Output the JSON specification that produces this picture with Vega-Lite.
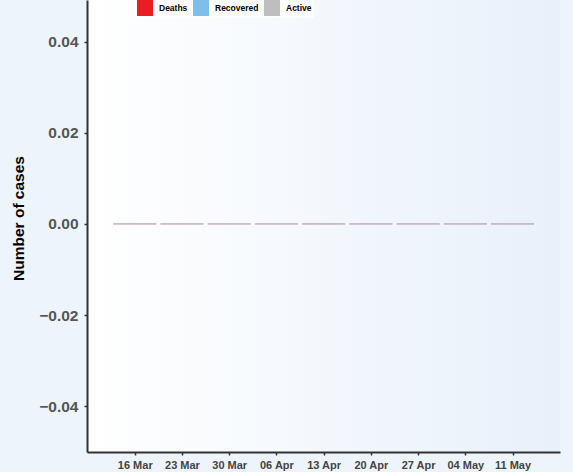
{
  "$schema": "https://vega.github.io/schema/vega-lite/v6.json",
  "width": 473,
  "height": 452,
  "autosize": {"type": "none"},
  "padding": {"left": 87, "top": 0, "right": 13, "bottom": 20},
  "background": "#eef4fb",
  "config": {
    "view": {
      "stroke": null,
      "fill": {"gradient": "linear", "x1": 0, "y1": 0, "x2": 1, "y2": 0, "stops": [{"offset": 0, "color": "#ffffff"}, {"offset": 1, "color": "#e8f0fa"}]}
    },
    "font": "Liberation Sans",
    "axis": {"grid": false, "domainColor": "#333333", "domainWidth": 2, "tickColor": "#333333", "tickWidth": 1.5, "tickSize": 3, "labelFont": "Liberation Sans", "labelFontWeight": "bold", "labelColor": "#555555"}
  },
  "data": {
    "values": [
      {"date": "2020-03-16T00:00:00", "status": "Deaths", "cases": 0},
      {"date": "2020-03-16T00:00:00", "status": "Recovered", "cases": 0},
      {"date": "2020-03-16T00:00:00", "status": "Active", "cases": 0},
      {"date": "2020-03-23T00:00:00", "status": "Deaths", "cases": 0},
      {"date": "2020-03-23T00:00:00", "status": "Recovered", "cases": 0},
      {"date": "2020-03-23T00:00:00", "status": "Active", "cases": 0},
      {"date": "2020-03-30T00:00:00", "status": "Deaths", "cases": 0},
      {"date": "2020-03-30T00:00:00", "status": "Recovered", "cases": 0},
      {"date": "2020-03-30T00:00:00", "status": "Active", "cases": 0},
      {"date": "2020-04-06T00:00:00", "status": "Deaths", "cases": 0},
      {"date": "2020-04-06T00:00:00", "status": "Recovered", "cases": 0},
      {"date": "2020-04-06T00:00:00", "status": "Active", "cases": 0},
      {"date": "2020-04-13T00:00:00", "status": "Deaths", "cases": 0},
      {"date": "2020-04-13T00:00:00", "status": "Recovered", "cases": 0},
      {"date": "2020-04-13T00:00:00", "status": "Active", "cases": 0},
      {"date": "2020-04-20T00:00:00", "status": "Deaths", "cases": 0},
      {"date": "2020-04-20T00:00:00", "status": "Recovered", "cases": 0},
      {"date": "2020-04-20T00:00:00", "status": "Active", "cases": 0},
      {"date": "2020-04-27T00:00:00", "status": "Deaths", "cases": 0},
      {"date": "2020-04-27T00:00:00", "status": "Recovered", "cases": 0},
      {"date": "2020-04-27T00:00:00", "status": "Active", "cases": 0},
      {"date": "2020-05-04T00:00:00", "status": "Deaths", "cases": 0},
      {"date": "2020-05-04T00:00:00", "status": "Recovered", "cases": 0},
      {"date": "2020-05-04T00:00:00", "status": "Active", "cases": 0},
      {"date": "2020-05-11T00:00:00", "status": "Deaths", "cases": 0},
      {"date": "2020-05-11T00:00:00", "status": "Recovered", "cases": 0},
      {"date": "2020-05-11T00:00:00", "status": "Active", "cases": 0}
    ]
  },
  "mark": {"type": "bar", "width": 43, "strokeWidth": 1.2, "strokeOpacity": 0.4},
  "encoding": {
    "x": {
      "field": "date",
      "type": "temporal",
      "scale": {"domain": ["2020-03-09T16:00:00", "2020-05-17T07:00:00"], "nice": false},
      "axis": {"title": null, "values": ["2020-03-16T00:00:00", "2020-03-23T00:00:00", "2020-03-30T00:00:00", "2020-04-06T00:00:00", "2020-04-13T00:00:00", "2020-04-20T00:00:00", "2020-04-27T00:00:00", "2020-05-04T00:00:00", "2020-05-11T00:00:00"], "format": "%d %b", "labelFontSize": 11, "labelPadding": 4, "labelColor": "#444444"}
    },
    "y": {
      "field": "cases",
      "type": "quantitative",
      "stack": "zero",
      "scale": {"domain": [-0.05, 0.0491], "nice": false, "zero": false},
      "axis": {"title": "Number of cases", "titleFontSize": 15.5, "titleFontWeight": "bold", "titleColor": "#000000", "titlePadding": 12, "titleY": 218, "values": [-0.04, -0.02, 0, 0.02, 0.04], "format": ".2f", "labelFontSize": 15.5, "labelPadding": 6}
    },
    "color": {
      "field": "status",
      "type": "nominal",
      "scale": {"domain": ["Deaths", "Recovered", "Active"], "range": ["#ed1c24", "#7dbeea", "#bebebe"]},
      "legend": {"title": null, "orient": "none", "direction": "horizontal", "legendX": 48, "legendY": -2, "symbolType": "square", "symbolSize": 256, "symbolStrokeWidth": 0, "labelFontSize": 8.5, "labelFontWeight": "bold", "labelColor": "#000000", "columnPadding": 5, "labelOffset": 6, "fillColor": "rgba(255,255,255,0.75)", "padding": 2}
    },
    "stroke": {"field": "status", "type": "nominal", "scale": {"domain": ["Deaths", "Recovered", "Active"], "range": ["#ed1c24", "#7dbeea", "#bebebe"]}, "legend": null}
  }
}
